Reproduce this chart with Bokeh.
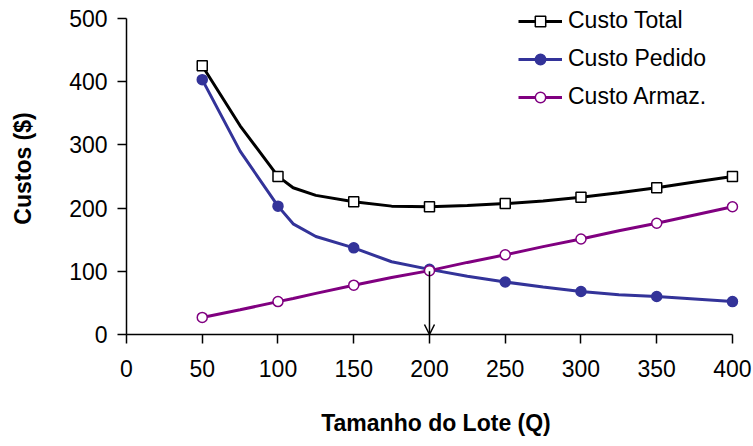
from bokeh.plotting import figure
from bokeh.models import Range1d, Legend, LegendItem, Arrow, OpenHead, FixedTicker
from bokeh.embed import file_html
from bokeh.resources import INLINE

# marker values
q_marks = [50, 100, 150, 200, 250, 300, 350, 400]
total_marks = [425, 250, 210, 202, 207, 217, 232, 250]
pedido_marks = [403, 203, 137, 103, 83, 68, 60, 52]
armaz_marks = [27, 52, 78, 101, 126, 151, 176, 202]

# line (curve) values
q_line = [50, 75, 100, 110, 125, 150, 175, 200, 225, 250, 275, 300, 325, 350, 375, 400]
total_line = [425, 330, 250, 232, 220, 210, 203, 202, 204, 207, 211, 217, 224, 232, 241, 250]
pedido_line = [403, 290, 203, 175, 155, 137, 115, 103, 92, 83, 75, 68, 63, 60, 56, 52]
armaz_line = [27, 39, 52, 57, 65, 78, 90, 101, 114, 126, 139, 151, 164, 176, 189, 202]

x_ticks = [0, 50, 100, 150, 200, 250, 300, 350, 400]
y_ticks = [0, 100, 200, 300, 400, 500]
arrow_q = 200
arrow_top = 100

FONT = "Liberation Sans"
BLACK = "#000000"
BLUE = "#333399"
PURPLE = "#800080"

p = figure(width=753, height=446, output_backend="svg", toolbar_location=None,
           x_range=Range1d(0, 408.6), y_range=Range1d(0, 525),
           min_border_left=126, min_border_right=8, min_border_top=2, min_border_bottom=112)
p.outline_line_color = None
p.xgrid.visible = False
p.ygrid.visible = False
p.background_fill_color = "white"
p.border_fill_color = "white"

for ax in (p.xaxis[0], p.yaxis[0]):
    ax.axis_line_color = "black"
    ax.axis_line_width = 1.5
    ax.major_tick_line_color = "black"
    ax.major_tick_line_width = 1.5
    ax.major_tick_out = 9
    ax.major_tick_in = 0
    ax.minor_tick_line_color = None
    ax.major_label_text_font = FONT
    ax.major_label_text_font_size = "23px"
    ax.major_label_text_color = "black"
    ax.axis_label_text_font = FONT
    ax.axis_label_text_font_size = "23px"
    ax.axis_label_text_font_style = "bold"
    ax.axis_label_text_color = "black"

p.xaxis.bounds = (0, 400)
p.yaxis.bounds = (0, 500)
p.xaxis.ticker = FixedTicker(ticks=x_ticks)
p.yaxis.ticker = FixedTicker(ticks=y_ticks)
p.xaxis.axis_label = "Tamanho do Lote (Q)"
p.yaxis.axis_label = "Custos ($)"
p.xaxis.major_label_standoff = 16
p.yaxis.major_label_standoff = 10
p.xaxis.axis_label_standoff = 30
p.yaxis.axis_label_standoff = 30

lt = p.line(q_line, total_line, line_color=BLACK, line_width=3)
lp = p.line(q_line, pedido_line, line_color=BLUE, line_width=3)
la = p.line(q_line, armaz_line, line_color=PURPLE, line_width=3)

st = p.scatter(q_marks, total_marks, marker="square", size=10, fill_color="white",
               line_color=BLACK, line_width=1.5)
sp = p.scatter(q_marks, pedido_marks, marker="circle", size=10, fill_color=BLUE,
               line_color=BLUE, line_width=1.5)
sa = p.scatter(q_marks, armaz_marks, marker="circle", size=10, fill_color="white",
               line_color=PURPLE, line_width=1.5)

p.add_layout(Arrow(end=OpenHead(size=10, line_color="black", line_width=1.5),
                   x_start=arrow_q, y_start=arrow_top, x_end=arrow_q, y_end=0,
                   line_color="black", line_width=1.5))

legend = Legend(items=[
    LegendItem(label="Custo Total", renderers=[lt, st]),
    LegendItem(label="Custo Pedido", renderers=[lp, sp]),
    LegendItem(label="Custo Armaz.", renderers=[la, sa]),
], location=(392, 224))
legend.background_fill_alpha = 0
legend.border_line_color = None
legend.label_text_font = FONT
legend.label_text_font_size = "23px"
legend.label_text_color = "black"
legend.glyph_width = 44
legend.glyph_height = 26
legend.label_height = 26
legend.spacing = 11
legend.padding = 0
legend.margin = 0
legend.label_standoff = 6
p.add_layout(legend)

open("out.html", "w").write(file_html(p, INLINE))
